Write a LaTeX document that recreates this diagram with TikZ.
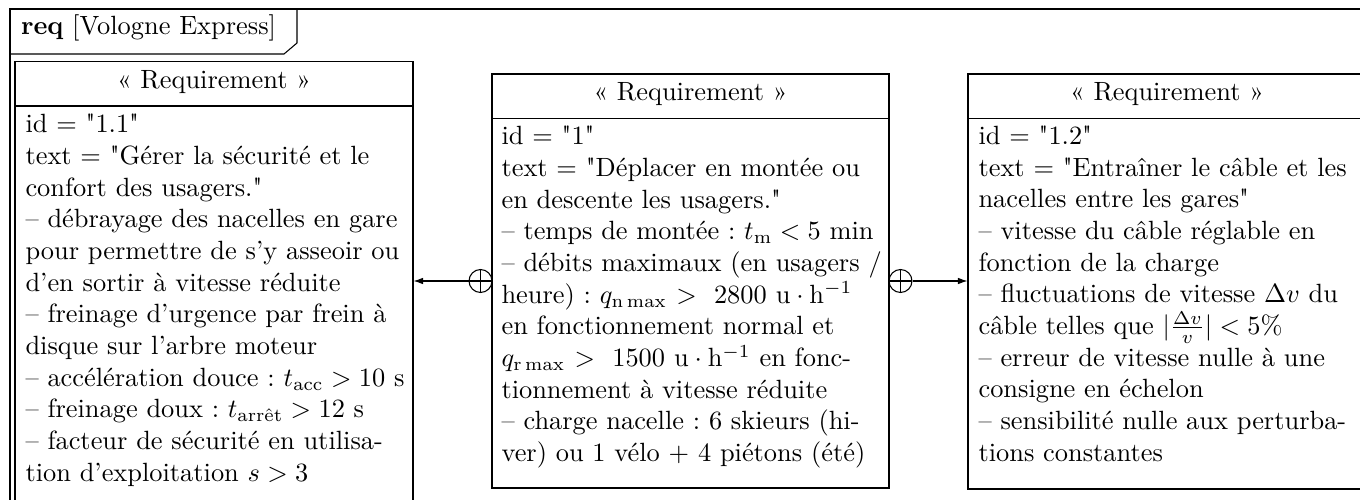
\documentclass[tikz,border=0pt]{standalone}
\usepackage{amsmath}
\usetikzlibrary{fit,arrows.meta}
\font\qfont="[lmroman10-regular.otf]" at 10pt
\newcommand{\qq}{{\qfont\symbol{34}}}
\frenchspacing
\begin{document}
\begin{tikzpicture}[x=0.379pt,y=-0.379pt, line width=0.4pt,
  frm/.style={draw, inner sep=0pt},
  hdr/.style={anchor=base, inner sep=0pt},
  body/.style={anchor=base west, inner sep=0pt, text width=5.4cm, align=left, font=\frenchspacing},
  cont/.style={circle, draw, inner sep=0pt, minimum size=8.7pt,
    path picture={\draw (path picture bounding box.north) -- (path picture bounding box.south)
                        (path picture bounding box.west) -- (path picture bounding box.east);}},
  conn/.style={-{Latex[length=3.6pt,width=2.5pt]}}
]
\useasboundingbox (0,0) rectangle (1360,500);
\clip (0,0) rectangle (1360,500);

% outer frame and title tab
\node[frm, fit={(10,9) (1400,560)}] (frame) {};
\coordinate (t1) at (297,9);
\coordinate (t2) at (297,43);
\coordinate (t3) at (284,54);
\coordinate (t4) at (10,54);
\draw (t1) -- (t2) -- (t3) -- (t4);
\node[anchor=base west, inner sep=0pt] (title) at (20.5,34.3) {\textbf{req} [Vologne Express]};

% left requirement 1.1
\node[frm, fit={(15,61.5) (413,560)}] (L) {};
\coordinate (Lh) at (15,106);
\draw (Lh) -- (Lh -| L.east);
\node[hdr] (Lt) at (214,88.5) {«~Requirement~»};
\node[body] (Lb) at (25,133) {id = \qq1.1\qq\\
text = \qq Gérer la sécurité et le\\
confort des usagers.\qq\\
– débrayage des nacelles en gare\\
pour permettre de s’y asseoir ou\\
d’en sortir à vitesse réduite\\
– freinage d’urgence par frein à\\
disque sur l’arbre moteur\\
– accélération douce~: $t_{\mathrm{acc}}>10$~s\\
– freinage doux~: $t_{\text{arrêt}}>12$~s\\
– facteur de sécurité en utilisa-\\
tion d’exploitation $s>3$};

% middle requirement 1
\node[frm, fit={(492,74) (889,488)}] (M) {};
\coordinate (Mh) at (492,118.5);
\draw (Mh) -- (Mh -| M.east);
\node[hdr] (Mt) at (690.5,100.7) {«~Requirement~»};
\node[body] (Mb) at (501,145) {id = \qq1\qq\\
text = \qq Déplacer en montée ou\\
en descente les usagers.\qq\\
– temps de montée~: $t_{\mathrm{m}}<5$~min\\
– débits maximaux (en usagers /\\
heure)~: $q_{\mathrm{n}\max}$\hspace{3.5pt}$>$\hspace{6.5pt}2800\hspace{3.4pt}$\mathrm{u}\cdot\mathrm{h}^{-1}$\\
en fonctionnement normal et\\
$q_{\mathrm{r}\max}$\hspace{3.5pt}$>$\hspace{6.5pt}1500\hspace{3.4pt}$\mathrm{u}\cdot\mathrm{h}^{-1}$ en fonc-\\
tionnement à vitesse réduite\\
– charge nacelle~: 6 skieurs (hi-\\
ver) ou 1 vélo + 4 piétons (été)};

% right requirement 1.2
\node[frm, fit={(968,74) (1366,489)}] (R) {};
\coordinate (Rh) at (968,118.5);
\draw (Rh) -- (Rh -| R.east);
\node[hdr] (Rt) at (1167,100.3) {«~Requirement~»};
\node[body] (Rb) at (978,144.5) {id = \qq1.2\qq\\
text = \qq Entraîner le câble et les\\
nacelles entre les gares\qq\\
– vitesse du câble réglable en\\
fonction de la charge\\
– fluctuations de vitesse $\Delta v$ du\\
câble telles que $|\frac{\Delta v}{v}|<5\%$\\
– erreur de vitesse nulle à une\\
consigne en échelon\\
– sensibilité nulle aux perturba-\\
tions constantes};

% containment connectors
\node[cont] (c1) at (480.5,281) {};
\node[cont] (c2) at (900.5,281) {};
\draw[conn] (c1.west) -- (c1.west -| L.east);
\draw[conn] (c2.east) -- (c2.east -| R.west);
\end{tikzpicture}
\end{document}
